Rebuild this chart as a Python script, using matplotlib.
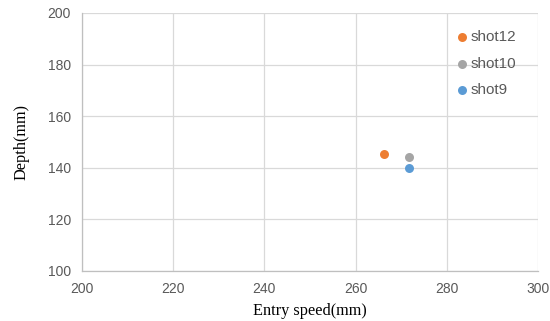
import matplotlib
matplotlib.use("Agg")
import matplotlib.pyplot as plt

series = ["shot12", "shot10", "shot9"]
entry_speed = [266.3, 271.7, 271.7]
depth = [145.2, 144.3, 140.0]
colors = ["#ED7D31", "#A5A5A5", "#5B9BD5"]
xticks = [200, 220, 240, 260, 280, 300]
yticks = [100, 120, 140, 160, 180, 200]

fig = plt.figure(figsize=(5.5, 3.21), dpi=100)
ax = fig.add_axes([82/550, 50/321, 456/550, 258/321])

for name, x, y, c in zip(series, entry_speed, depth, colors):
    ax.scatter([x], [y], s=42, color=c, label=name, zorder=3, linewidths=0)

ax.set_xlim(200, 300)
ax.set_ylim(100, 200)
ax.set_xticks(xticks)
ax.set_yticks(yticks)
ax.grid(True, color="#D9D9D9", linewidth=0.9)
ax.set_axisbelow(True)
for s in ["top", "right"]:
    ax.spines[s].set_visible(False)
for s in ["left", "bottom"]:
    ax.spines[s].set_color("#BFBFBF")
    ax.spines[s].set_linewidth(0.9)
ax.tick_params(length=0, labelsize=10, labelcolor="#595959", pad=8)
for lab in ax.get_xticklabels() + ax.get_yticklabels():
    lab.set_family("Liberation Sans")

ax.set_xlabel("Entry speed(mm)", family="Liberation Serif", fontsize=11.7, labelpad=5)
ax.set_ylabel("Depth(mm)", family="Liberation Serif", fontsize=11.7, labelpad=13)

leg = ax.legend(loc="upper left", bbox_to_anchor=(0.813, 0.935), frameon=False,
                borderaxespad=0, borderpad=0,
                handletextpad=0.0, labelspacing=0.84, handlelength=1.2,
                prop={"family": "Liberation Sans", "size": 11})
for t in leg.get_texts():
    t.set_color("#595959")

fig.savefig("out.png", dpi=100)
